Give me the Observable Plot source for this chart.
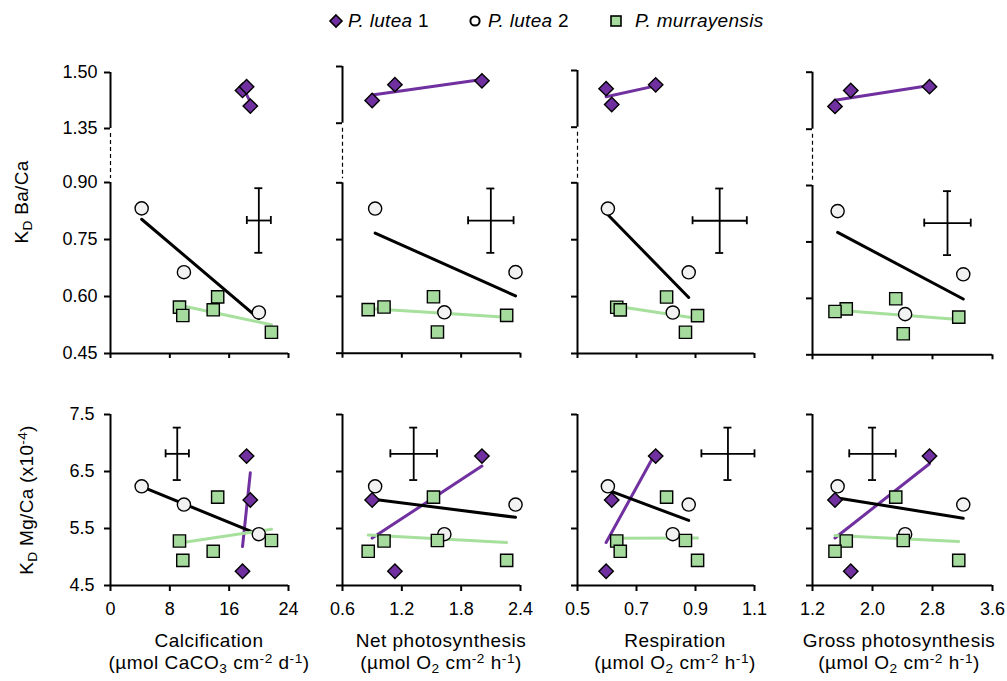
<!DOCTYPE html>
<html>
<head>
<meta charset="utf-8">
<script src="https://cdn.jsdelivr.net/npm/d3@7"></script>
<script src="https://cdn.jsdelivr.net/npm/@observablehq/plot@0.6"></script>
<style>
  html, body { margin: 0; padding: 0; background: #fff; }
  body { font-family: "Liberation Sans", Arial, sans-serif; color: #000; }
  #chart { position: relative; width: 1007px; height: 681px; overflow: hidden; }
  #chart svg.plotlayer { position: absolute; left: 0; top: 0; background: transparent; overflow: visible; }
  .t { position: absolute; white-space: nowrap; font-size: 19px; line-height: 19px; letter-spacing: 0.3px; }
  .xt { position: absolute; white-space: nowrap; font-size: 19px; line-height: 22px; text-align: center; transform: translateX(-50%); letter-spacing: 0.5px; }
  .yt { position: absolute; white-space: nowrap; font-size: 19px; line-height: 19px; transform: translate(-50%, -50%) rotate(-90deg); letter-spacing: 0.3px; }
  sub, sup { font-size: 0.72em; line-height: 0; position: relative; vertical-align: baseline; }
  sub { top: 0.32em; }
  sup { top: -0.45em; }
  .sym { position: absolute; }
</style>
</head>
<body>
<div id="chart"></div>
<script>
// ---------------- data ----------------
const species = ["P. lutea 1", "P. lutea 2", "P. murrayensis"];
const sampleSpecies = [
  "P. lutea 1", "P. lutea 1", "P. lutea 1",
  "P. lutea 2", "P. lutea 2", "P. lutea 2",
  "P. murrayensis", "P. murrayensis", "P. murrayensis", "P. murrayensis", "P. murrayensis"
];
const calcification       = [18.85, 17.8, 18.35, 4.2, 9.9, 20.0, 9.3, 9.75, 13.85, 14.45, 21.7];
const netPhotosynthesis   = [0.90, 1.13, 2.01, 0.93, 2.35, 1.63, 1.02, 2.26, 0.86, 1.52, 1.56];
const respiration         = [0.616, 0.597, 0.765, 0.603, 0.877, 0.823, 0.633, 0.907, 0.645, 0.802, 0.866];
const grossPhotosynthesis = [1.50, 1.71, 2.76, 1.535, 3.21, 2.435, 1.65, 3.15, 1.50, 2.31, 2.41];
const kdBaCa              = [1.410, 1.452, 1.462, 0.832, 0.664, 0.558, 0.572, 0.550, 0.565, 0.599, 0.506];
const kdMgCa              = [6.00, 4.75, 6.77, 6.24, 5.92, 5.40, 5.28, 4.94, 5.10, 6.05, 5.29];

// x variables (columns)
const xKeys    = ["calc", "np", "r", "gp"];
const xDomains = [[0, 24], [0.6, 2.4], [0.5, 1.1], [1.2, 3.6]];
const xTicks   = [[0, 8, 16, 24], [0.6, 1.2, 1.8, 2.4], [0.5, 0.7, 0.9, 1.1], [1.2, 2.0, 2.8, 3.6]];
const xTitles  = ["Calcification", "Net photosynthesis", "Respiration", "Gross photosynthesis"];
const xUnits   = [
  "(µmol CaCO<sub>3</sub> cm<sup>-2</sup> d<sup>-1</sup>)",
  "(µmol O<sub>2</sub> cm<sup>-2</sup> h<sup>-1</sup>)",
  "(µmol O<sub>2</sub> cm<sup>-2</sup> h<sup>-1</sup>)",
  "(µmol O<sub>2</sub> cm<sup>-2</sup> h<sup>-1</sup>)"
];

// y axes (Ba/Ca axis is broken between 0.90 and 1.35)
const baUpperTicks = [1.35, 1.50];
const baLowerTicks = [0.45, 0.60, 0.75, 0.90];
const upperSpecies = ["P. lutea 1"];
const lowerSpecies = ["P. lutea 2", "P. murrayensis"];
const mgTicks      = [4.5, 5.5, 6.5, 7.5];

// representative error crosses (one per panel)
const crossBaX    = [20.0, 2.10, 0.982, 3.00];
const crossBaXErr = [1.62, 0.23, 0.092, 0.31];
const crossBaY    = [0.80, 0.80, 0.80, 0.80];
const crossBaYErr = [0.085, 0.085, 0.085, 0.085];
const crossMgX    = [9.0, 1.32, 1.01, 2.0];
const crossMgXErr = [1.57, 0.236, 0.09, 0.31];
const crossMgY    = [6.81, 6.81, 6.81, 6.81];
const crossMgYErr = [0.46, 0.46, 0.46, 0.46];

// ---------------- layout & style ----------------
const W = 1007, H = 681;
const colLeft  = [110, 342, 577, 812];
const colRight = [288, 520, 754, 992];
const upperPx  = [[128, 72], [122.7, 66], [126.7, 70], [128.7, 71.7]];   // screen y of 1.35, 1.50
const lowerPx  = [[353, 182], [352.7, 182.3], [353, 182.3], [354.3, 185]]; // screen y of 0.45, 0.90
const bottomPx = [585, 414];
const titleCenters = [209, 441, 675, 899];
const TICKFONT = 18;

const seriesStyle = {
  "P. lutea 1":     {symbol: "diamond2", r: 6.5, fill: "#7030a0", line: "#7030a0"},
  "P. lutea 2":     {symbol: "circle",   r: 6.6, fill: "#f2f2f2", line: "#000000"},
  "P. murrayensis": {symbol: "square",   r: 6.9, fill: "#a6db9e", line: "#a6e09c"}
};
const FONT = '"Liberation Sans", Arial, sans-serif';
const STYLE = {fontFamily: FONT, fontSize: TICKFONT + "px", color: "#000", background: "transparent"};

const samples = sampleSpecies.map((s, i) => ({
  species: s, calc: calcification[i], np: netPhotosynthesis[i], r: respiration[i],
  gp: grossPhotosynthesis[i], ba: kdBaCa[i], mg: kdMgCa[i]
}));

function seriesMarks(xKey, yKey, which) {
  const out = [];
  for (const s of which) {
    const d = samples.filter(r => r.species === s);
    out.push(Plot.linearRegressionY(d, {x: xKey, y: yKey, stroke: seriesStyle[s].line, strokeWidth: 3, ci: 0}));
  }
  for (const s of which) {
    const d = samples.filter(r => r.species === s);
    const st = seriesStyle[s];
    out.push(Plot.dot(d, {x: xKey, y: yKey, symbol: st.symbol, r: st.r, fill: st.fill, stroke: "#000", strokeWidth: 1.4}));
  }
  return out;
}

function crossMarks(cross) {
  const o = {stroke: "#000", strokeWidth: 1.8};
  return [
    Plot.ruleY(cross, {...o, y: "y", x1: d => d.x - d.ex, x2: d => d.x + d.ex}),
    Plot.ruleX(cross, {...o, x: "x", y1: d => d.y - d.ey, y2: d => d.y + d.ey}),
    Plot.ruleX(cross, {...o, x: d => d.x - d.ex, y1: "y", y2: "y", insetTop: -4, insetBottom: -4}),
    Plot.ruleX(cross, {...o, x: d => d.x + d.ex, y1: "y", y2: "y", insetTop: -4, insetBottom: -4}),
    Plot.ruleY(cross, {...o, y: d => d.y - d.ey, x1: "x", x2: "x", insetLeft: -4, insetRight: -4}),
    Plot.ruleY(cross, {...o, y: d => d.y + d.ey, x1: "x", x2: "x", insetLeft: -4, insetRight: -4})
  ];
}

const blank = () => "";
const chart = document.getElementById("chart");

function addPlot(p) {
  p.classList.add("plotlayer");
  p.style.position = "absolute";
  p.style.left = "0px";
  p.style.top = "0px";
  p.style.background = "transparent";
  p.style.overflow = "visible";
  chart.appendChild(p);
}

for (let c = 0; c < 4; c++) {
  const xKey = xKeys[c];
  const x0 = xDomains[c][0];
  const lo = lowerPx[c], up = upperPx[c];
  const common = {width: W, height: H, marginLeft: colLeft[c], marginRight: W - colRight[c], style: STYLE};

  // ---- top row, upper section (1.35 – 1.50) ----
  addPlot(Plot.plot({
    ...common,
    marginTop: up[1], marginBottom: H - up[0],
    x: {domain: xDomains[c], axis: null},
    y: {domain: [baUpperTicks[0], baUpperTicks[baUpperTicks.length - 1]]},
    marks: [
      Plot.axisY({ticks: baUpperTicks, tickSize: 6, tickPadding: 7, strokeWidth: 2, label: null, fontSize: TICKFONT,
                  tickFormat: c === 0 ? d3.format(".2f") : blank}),
      Plot.ruleX([x0], {strokeWidth: 2}),
      ...seriesMarks(xKey, "ba", upperSpecies)
    ]
  }));

  // ---- top row, lower section (0.45 – 0.90) ----
  const crossTop = [{x: crossBaX[c], ex: crossBaXErr[c], y: crossBaY[c], ey: crossBaYErr[c]}];
  const gap = lo[1] - up[0];
  addPlot(Plot.plot({
    ...common,
    marginTop: lo[1], marginBottom: H - lo[0],
    x: {domain: xDomains[c]},
    y: {domain: [baLowerTicks[0], baLowerTicks[baLowerTicks.length - 1]]},
    marks: [
      Plot.axisX({ticks: xTicks[c], tickSize: 5, tickFormat: blank, strokeWidth: 2, label: null}),
      Plot.axisY({ticks: baLowerTicks, tickSize: 6, tickPadding: 7, strokeWidth: 2, label: null, fontSize: TICKFONT,
                  tickFormat: c === 0 ? d3.format(".2f") : blank}),
      Plot.ruleY([baLowerTicks[0]], {strokeWidth: 2}),
      Plot.ruleX([x0], {strokeWidth: 2}),
      // dashed connector across the axis break
      Plot.ruleX([x0], {y1: baLowerTicks[baLowerTicks.length - 1], y2: baLowerTicks[baLowerTicks.length - 1],
                        strokeWidth: 1.2, strokeDasharray: "4,3", insetTop: -(gap - 5), insetBottom: 4}),
      ...crossMarks(crossTop),
      ...seriesMarks(xKey, "ba", lowerSpecies)
    ]
  }));

  // ---- bottom row: KD Mg/Ca ----
  const crossBot = [{x: crossMgX[c], ex: crossMgXErr[c], y: crossMgY[c], ey: crossMgYErr[c]}];
  addPlot(Plot.plot({
    ...common,
    marginTop: bottomPx[1], marginBottom: H - bottomPx[0],
    x: {domain: xDomains[c]},
    y: {domain: [mgTicks[0], mgTicks[mgTicks.length - 1]]},
    marks: [
      Plot.axisX({ticks: xTicks[c], tickSize: 6, tickPadding: 11, strokeWidth: 2, label: null, fontSize: TICKFONT,
                  tickFormat: c === 0 ? d3.format("d") : d3.format(".1f")}),
      Plot.axisY({ticks: mgTicks, tickSize: 6, tickPadding: 10, strokeWidth: 2, label: null, fontSize: TICKFONT,
                  tickFormat: c === 0 ? d3.format(".1f") : blank}),
      Plot.ruleY([mgTicks[0]], {strokeWidth: 2}),
      Plot.ruleX([x0], {strokeWidth: 2}),
      ...crossMarks(crossBot),
      ...seriesMarks(xKey, "mg", species)
    ]
  }));

  // ---- x titles ----
  const xt = document.createElement("div");
  xt.className = "xt";
  xt.style.left = titleCenters[c] + "px";
  xt.style.top = "630px";
  xt.innerHTML = xTitles[c] + "<br>" + xUnits[c];
  chart.appendChild(xt);
}

// ---- y titles ----
function yTitle(html, cx, cy) {
  const d = document.createElement("div");
  d.className = "yt";
  d.style.left = cx + "px";
  d.style.top = cy + "px";
  d.innerHTML = html;
  chart.appendChild(d);
}
yTitle("K<sub>D</sub> Ba/Ca", 20.5, 202);
yTitle("K<sub>D</sub> Mg/Ca (x10<sup>-4</sup>)", 25.5, 500);

// ---- legend ----
const legendItems = [
  {name: "P. lutea 1",     label: "<i>P. lutea</i> 1",     cx: 336,   tx: 348},
  {name: "P. lutea 2",     label: "<i>P. lutea</i> 2",     cx: 474.7, tx: 488},
  {name: "P. murrayensis", label: "<i>P. murrayensis</i>", cx: 616,   tx: 635}
];
const NS = "http://www.w3.org/2000/svg";
for (const it of legendItems) {
  const st = seriesStyle[it.name];
  const svg = document.createElementNS(NS, "svg");
  svg.setAttribute("class", "sym");
  svg.setAttribute("width", 16);
  svg.setAttribute("height", 16);
  svg.style.left = (it.cx - 8) + "px";
  svg.style.top = (21 - 8) + "px";
  let shape;
  if (st.symbol === "diamond2") {
    shape = document.createElementNS(NS, "path");
    shape.setAttribute("d", "M8 2 L14 8 L8 14 L2 8 Z");
  } else if (st.symbol === "circle") {
    shape = document.createElementNS(NS, "circle");
    shape.setAttribute("cx", 8); shape.setAttribute("cy", 8); shape.setAttribute("r", 4.6);
  } else {
    shape = document.createElementNS(NS, "rect");
    shape.setAttribute("x", 3); shape.setAttribute("y", 3); shape.setAttribute("width", 10); shape.setAttribute("height", 10);
  }
  shape.setAttribute("fill", st.symbol === "circle" ? "#ffffff" : st.fill);
  shape.setAttribute("stroke", "#000");
  shape.setAttribute("stroke-width", st.symbol === "circle" ? 2 : 1.6);
  svg.appendChild(shape);
  chart.appendChild(svg);
  const t = document.createElement("div");
  t.className = "t";
  t.style.left = it.tx + "px";
  t.style.top = "10.6px";
  t.innerHTML = it.label;
  chart.appendChild(t);
}
</script>
</body>
</html>
